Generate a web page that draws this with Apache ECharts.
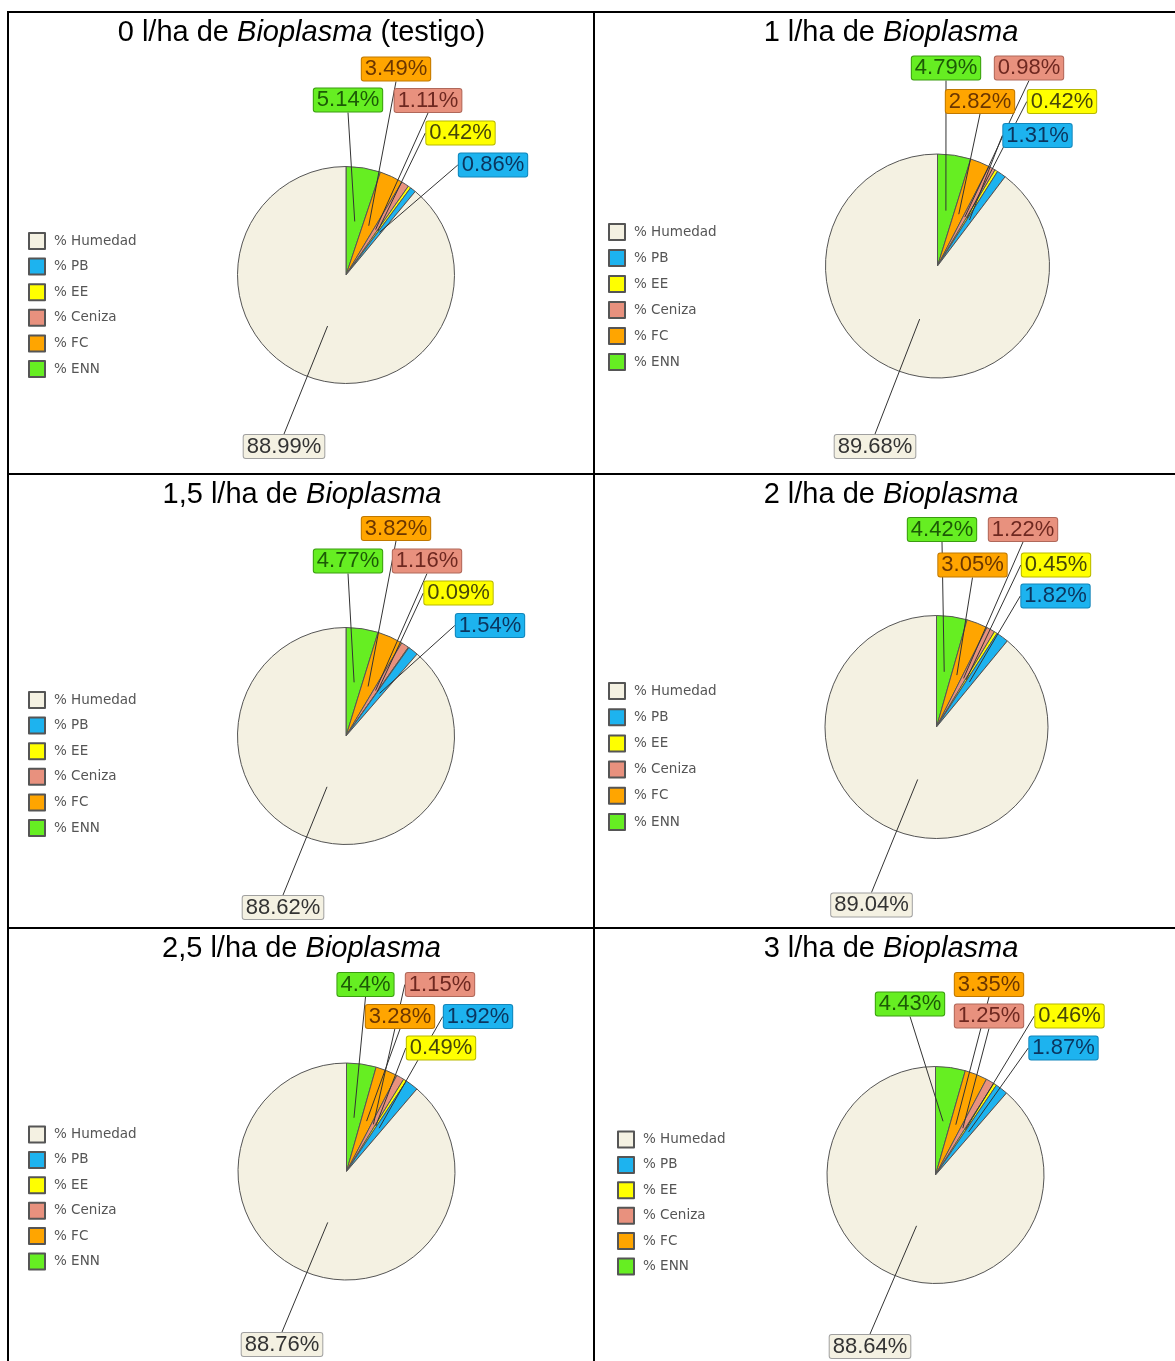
<!DOCTYPE html>
<html><head><meta charset="utf-8">
<script src="https://cdn.jsdelivr.net/npm/echarts@6/dist/echarts.min.js"></script>
<style>html,body{margin:0;padding:0;background:#fff}#c{width:1175px;height:1361px}</style>
</head><body><div id="c"></div>
<script>
// ---- data ----
const doses = ['0', '1', '1,5', '2', '2,5', '3'];
const titleSuffix = [' (testigo)', '', '', '', '', ''];
const categories = ['% Humedad', '% PB', '% EE', '% Ceniza', '% FC', '% ENN'];
const humedad = [88.99, 89.68, 88.62, 89.04, 88.76, 88.64];
const pb      = [0.86, 1.31, 1.54, 1.82, 1.92, 1.87];
const ee      = [0.42, 0.42, 0.09, 0.45, 0.49, 0.46];
const ceniza  = [1.11, 0.98, 1.16, 1.22, 1.15, 1.25];
const fc      = [3.49, 2.82, 3.82, 3.05, 3.28, 3.35];
const enn     = [5.14, 4.79, 4.77, 4.42, 4.4, 4.43];
// clockwise order from 12 o'clock
const sliceOrder = ['% ENN', '% FC', '% Ceniza', '% EE', '% PB', '% Humedad'];
const valuesOf = {'% Humedad': humedad, '% PB': pb, '% EE': ee, '% Ceniza': ceniza, '% FC': fc, '% ENN': enn};

// ---- styles ----
const fillColor = {'% Humedad': '#f4f1e2', '% PB': '#1db3ef', '% EE': '#ffff00', '% Ceniza': '#e8917e', '% FC': '#ffa500', '% ENN': '#66ee22'};
const labelBorder = {'% Humedad': '#a0a0a0', '% PB': '#1286bb', '% EE': '#b8b800', '% Ceniza': '#b0685a', '% FC': '#c07800', '% ENN': '#3a9c10'};
const labelText = {'% Humedad': '#333333', '% PB': '#0b355e', '% EE': '#46460a', '% Ceniza': '#6e2820', '% FC': '#6b3600', '% ENN': '#1c5a06'};

// ---- layout (pixels) ----
const pieCenter = [[346, 275], [937.5, 266], [346, 736], [936.5, 727], [346.5, 1171.5], [935.5, 1175]];
const pieRadius = [108.5, 112, 108.5, 111.5, 108.5, 108.5];
// label box centres, in sliceOrder
const labelPos = [
  [[348, 100], [396, 69], [428, 100.5], [460.5, 133], [493, 165], [284, 446.5]],
  [[946, 68], [980, 101.5], [1029, 68], [1062, 101.5], [1037.5, 135.5], [875, 446.5]],
  [[348, 561], [396, 528.5], [427, 561], [458.5, 593], [490, 625.5], [283, 907.5]],
  [[942, 529.5], [972.5, 565], [1023, 529.5], [1056, 565], [1055.5, 596], [871.5, 905]],
  [[365.5, 984.5], [400, 1016.5], [440, 984.5], [441, 1048], [478, 1016.5], [282, 1344.5]],
  [[910, 1004], [989, 984.5], [989, 1016], [1069.5, 1016], [1063.5, 1048], [870, 1346.5]]
];
const legendPos = [[28, 232, 7.6], [608, 223, 8], [28, 691, 7.6], [608, 682, 8.2], [28, 1125.5, 7.4], [617, 1130.5, 7.4]];
const titlePos = [[301.5, 33], [891, 33], [302, 495], [891, 495], [301.5, 949], [891, 949]];

const labelSize = [[], [], [], [], [], []];
function makeLabelLayout(p) {
  return function (params) {
    const k = params.dataIndex;
    labelSize[p][k] = [params.labelRect.width, params.labelRect.height];
    return {x: labelPos[p][k][0], y: labelPos[p][k][1], align: 'center', verticalAlign: 'middle'};
  };
}

const series = [], labelSeries = [], legends = [], graphics = [];
for (let p = 0; p < 6; p++) {
  // filled slices (bottom layer)
  series.push({
    type: 'pie', z: 1, center: pieCenter[p], radius: pieRadius[p], startAngle: 90, clockwise: true,
    avoidLabelOverlap: false, emphasis: {scale: false},
    itemStyle: {borderColor: '#555', borderWidth: 1},
    label: {show: false}, labelLine: {show: false},
    data: sliceOrder.map(n => ({name: n, value: valuesOf[n][p], itemStyle: {color: fillColor[n]}}))
  });
  // same slices, transparent, carrying the labels above the leader lines
  labelSeries.push({
    type: 'pie', z: 4, center: pieCenter[p], radius: pieRadius[p], startAngle: 90, clockwise: true,
    avoidLabelOverlap: false, silent: true, emphasis: {disabled: true},
    itemStyle: {color: 'rgba(0,0,0,0)', borderWidth: 0},
    label: {show: true, position: 'outside', formatter: '{c}%', fontFamily: 'Liberation Sans', fontSize: 22,
      lineHeight: 22, padding: [1, 3, 0, 3], borderWidth: 1, borderRadius: 2},
    labelLine: {show: false},
    labelLayout: makeLabelLayout(p),
    data: sliceOrder.map(n => ({
      name: n, value: valuesOf[n][p],
      label: {backgroundColor: fillColor[n], borderColor: labelBorder[n], color: labelText[n]}
    }))
  });
  legends.push({
    orient: 'vertical', left: legendPos[p][0], top: legendPos[p][1], itemGap: legendPos[p][2],
    itemWidth: 16, itemHeight: 16, icon: 'rect', padding: 0, selectedMode: false,
    data: categories,
    textStyle: {fontFamily: 'DejaVu Sans', fontSize: 13.5, color: '#555', padding: [0, 0, 0, 4]}
  });
  graphics.push({
    type: 'text', x: titlePos[p][0], y: titlePos[p][1],
    style: {
      text: '{n|' + doses[p] + ' l/ha de }{i|Bioplasma}' + (titleSuffix[p] ? '{n|' + titleSuffix[p] + '}' : ''),
      align: 'center', verticalAlign: 'middle',
      font: '29px "Liberation Sans"', fill: '#000',
      rich: {
        n: {fontFamily: 'Liberation Sans', fontSize: 29, color: '#000'},
        i: {fontFamily: 'Liberation Sans', fontSize: 29, fontStyle: 'italic', color: '#000'}
      }
    }
  });
}
// table rules
const rule = (x1, y1, x2, y2) => ({type: 'line', shape: {x1, y1, x2, y2}, style: {stroke: '#000', lineWidth: 2}, silent: true, z: 10});
graphics.push(rule(7, 12, 1175, 12), rule(8, 11, 8, 1361), rule(594, 11, 594, 1361),
  rule(7, 474, 1175, 474), rule(7, 928, 1175, 928));

const chart = echarts.init(document.getElementById('c'));
chart.setOption({animation: false, backgroundColor: '#fff', legend: legends, series: series.concat(labelSeries), graphic: graphics});

// leader lines: from the middle of each slice (library layout) to the nearest side of its label box
const leaders = [];
for (let p = 0; p < 6; p++) {
  let data = null;
  try { data = chart.getModel().getSeriesByIndex(p).getData(); } catch (e) { data = null; }
  const vals = sliceOrder.map(n => valuesOf[n][p]);
  const sum = vals.reduce((a, b) => a + b, 0);
  let cum = 0;
  for (let k = 0; k < sliceOrder.length; k++) {
    let ax, ay;
    const lay = data ? data.getItemLayout(k) : null;
    if (lay && lay.startAngle != null) {
      const mid = (lay.startAngle + lay.endAngle) / 2;
      ax = lay.cx + 0.5 * lay.r * Math.cos(mid);
      ay = lay.cy + 0.5 * lay.r * Math.sin(mid);
    } else {
      const a0 = 90 - 360 * cum / sum, a1 = a0 - 360 * vals[k] / sum;
      const mid = (a0 + a1) / 2 * Math.PI / 180;
      ax = pieCenter[p][0] + 0.5 * pieRadius[p] * Math.cos(mid);
      ay = pieCenter[p][1] - 0.5 * pieRadius[p] * Math.sin(mid);
    }
    cum += vals[k];
    const lx = labelPos[p][k][0], ly = labelPos[p][k][1];
    const sz = labelSize[p][k] || [70, 24];
    const w = sz[0], h = sz[1];
    const cands = [[lx, ly + h / 2], [lx, ly - h / 2], [lx - w / 2, ly], [lx + w / 2, ly]];
    let best = cands[0], bd = Infinity;
    cands.forEach(c => { const d = Math.hypot(c[0] - ax, c[1] - ay); if (d < bd) { bd = d; best = c; } });
    leaders.push({type: 'polyline', silent: true, z: 2,
      shape: {points: [[ax, ay], best]}, style: {stroke: '#333', lineWidth: 1, fill: null}});
  }
}
chart.setOption({graphic: graphics.concat(leaders)});
</script></body></html>
